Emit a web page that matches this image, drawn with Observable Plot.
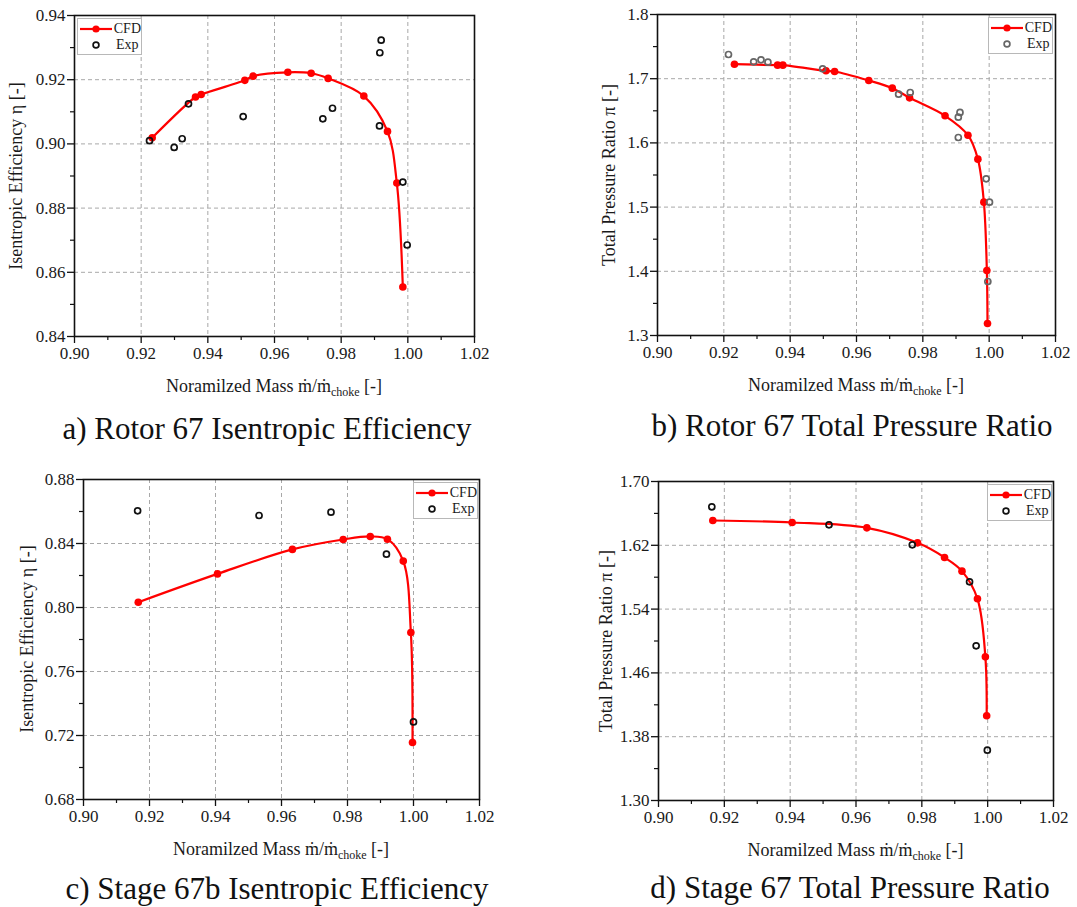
<!DOCTYPE html>
<html>
<head>
<meta charset="utf-8">
<script src="https://cdn.jsdelivr.net/npm/d3@7"></script>
<script src="https://cdn.jsdelivr.net/npm/@observablehq/plot@0.6"></script>
<style>
  html, body { margin: 0; padding: 0; background: #fff; }
  #root { position: relative; width: 1077px; height: 907px; background: #fff; overflow: hidden; color: #1a1a1a; }
  .panel { position: absolute; }
  .ytitle, .xtitle, .caption { position: absolute; white-space: nowrap; line-height: 1; }
  .ytitle { font-size: 18px; transform: translate(-50%, -50%) rotate(-90deg); }
  .xtitle { font-size: 18px; transform: translate(-50%, -50%); }
  .xtitle sub { font-size: 12px; vertical-align: -4px; line-height: 0; }
  .caption { font-size: 31px; transform: translate(-50%, -50%); color: #111; }
  .legend { position: absolute; border: 1px solid #b8b8b8; background: #fff; font-size: 14px;
            box-sizing: border-box; padding: 2px 0 0 1px; }
  .legend .row { display: flex; align-items: center; height: 16px; }
  .legend svg { display: block; margin-right: 1px; }
</style>
</head>
<body>
<div id="root"></div>
<script>
// ---------- data ----------
const xMajor = [0.90, 0.92, 0.94, 0.96, 0.98, 1.00, 1.02];
const xMinor = [0.91, 0.93, 0.95, 0.97, 0.99, 1.01];
const xGrid = [0.92, 0.94, 0.96, 0.98, 1.00];

// a) Rotor 67 Isentropic Efficiency
const aCfdX = [0.9233, 0.9363, 0.9380, 0.9511, 0.9536, 0.9640, 0.9710, 0.9761, 0.9868, 0.9939, 0.9967, 0.9985];
const aCfdY = [0.9019, 0.9146, 0.9154, 0.9198, 0.9211, 0.9223, 0.9220, 0.9204, 0.9149, 0.9039, 0.8878, 0.8554];
const aExpX = [0.9225, 0.9299, 0.9323, 0.9342, 0.9506, 0.9745, 0.9774, 0.9915, 0.9920, 0.9916, 0.9985, 0.9998];
const aExpY = [0.9010, 0.8989, 0.9016, 0.9125, 0.9085, 0.9078, 0.9111, 0.9056, 0.9323, 0.9284, 0.8881, 0.8685];
const aYTicks = [0.84, 0.86, 0.88, 0.90, 0.92, 0.94];
const aYMinor = [0.85, 0.87, 0.89, 0.91, 0.93];

// b) Rotor 67 Total Pressure Ratio
const bCfdX = [0.9232, 0.9362, 0.9378, 0.9508, 0.9534, 0.9637, 0.9708, 0.9760, 0.9867, 0.9936, 0.9966, 0.9984, 0.9993, 0.9995];
const bCfdY = [1.7226, 1.7211, 1.7211, 1.7123, 1.7112, 1.6972, 1.6853, 1.6702, 1.6422, 1.6120, 1.5747, 1.5077, 1.4013, 1.3187];
const bExpX = [0.9214, 0.9290, 0.9312, 0.9333, 0.9498, 0.9727, 0.9762, 0.9907, 0.9912, 0.9907, 0.9991, 1.0001, 0.9996];
const bExpY = [1.7377, 1.7263, 1.7294, 1.7258, 1.7154, 1.6759, 1.6785, 1.6401, 1.6474, 1.6084, 1.5440, 1.5077, 1.3841];
const bYTicks = [1.3, 1.4, 1.5, 1.6, 1.7, 1.8];
const bYMinor = [1.35, 1.45, 1.55, 1.65, 1.75];

// c) Stage 67b Isentropic Efficiency
const cCfdX = [0.9166, 0.9406, 0.9633, 0.9787, 0.9869, 0.9921, 0.9969, 0.9992, 0.9997];
const cCfdY = [0.8033, 0.8210, 0.8363, 0.8425, 0.8444, 0.8427, 0.8290, 0.7844, 0.7156];
const cExpX = [0.9164, 0.9532, 0.9750, 0.9918, 1.0000];
const cExpY = [0.8604, 0.8575, 0.8596, 0.8333, 0.7285];
const cYTicks = [0.68, 0.72, 0.76, 0.80, 0.84, 0.88];
const cYMinor = [0.70, 0.74, 0.78, 0.82, 0.86];

// d) Stage 67 Total Pressure Ratio
const dCfdX = [0.9165, 0.9406, 0.9633, 0.9787, 0.9869, 0.9922, 0.9969, 0.9993, 0.9997];
const dCfdY = [1.6511, 1.6486, 1.6419, 1.6231, 1.6047, 1.5876, 1.5529, 1.4801, 1.4062];
const dExpX = [0.9162, 0.9518, 0.9771, 0.9945, 0.9965, 0.9999];
const dExpY = [1.6682, 1.6457, 1.6206, 1.5742, 1.4939, 1.3631];
const dYTicks = [1.30, 1.38, 1.46, 1.54, 1.62, 1.70];
const dYMinor = [1.34, 1.42, 1.50, 1.58, 1.66];

const effTitle = "Isentropic Efficiency η [-]";
const prTitle = "Total Pressure Ratio π [-]";
const xTitleMain = "Noramilzed Mass ṁ/ṁ";
const xTitleSub = "choke";
const xTitleEnd = " [-]";
const captions = ["a) Rotor 67 Isentropic Efficiency", "b) Rotor 67 Total Pressure Ratio",
                  "c) Stage 67b Isentropic Efficiency", "d) Stage 67 Total Pressure Ratio"];
const legendNames = ["CFD", "Exp"];

// ---------- drawing ----------
const FONT = '"Liberation Serif", "Times New Roman", Tinos, Times';
const root = document.getElementById("root");
root.style.fontFamily = FONT;
const zip = (xs, ys) => xs.map((x, i) => ({x, y: ys[i]}));

function panel(cfg) {
  const {left, top, width, height, ml, mr, mt, mb, yDomain, yTicks, yMinor, yFmt,
         cfdX, cfdY, expX, expY, expColor, yTitle, yTitleX, caption, legend} = cfg;
  const cfd = zip(cfdX, cfdY);
  const exp = zip(expX, expY);
  const yGrid = yTicks.slice(1, -1);
  const chart = Plot.plot({
    width, height,
    marginLeft: ml, marginRight: mr, marginTop: mt, marginBottom: mb,
    style: {fontFamily: FONT, fontSize: "17px", color: "#1a1a1a", background: "transparent", overflow: "visible"},
    x: {domain: [0.90, 1.02], label: null},
    y: {domain: yDomain, label: null},
    marks: [
      Plot.gridX(xGrid, {stroke: "#a8a8a8", strokeOpacity: 1, strokeDasharray: "4,3", strokeWidth: 1}),
      Plot.gridY(yGrid, {stroke: "#a8a8a8", strokeOpacity: 1, strokeDasharray: "4,3", strokeWidth: 1}),
      Plot.axisX(xMajor, {tickSize: 7, tickPadding: 3, tickFormat: d3.format(".2f"), label: null, stroke: "#111", strokeWidth: 1.3, fontFamily: FONT}),
      Plot.axisX(xMinor, {tickSize: 4, tickFormat: () => "", label: null, stroke: "#111", strokeWidth: 1.2}),
      Plot.axisY(yTicks, {tickSize: 7, tickPadding: 2, tickFormat: d3.format(yFmt), label: null, stroke: "#111", strokeWidth: 1.3, fontFamily: FONT}),
      Plot.axisY(yMinor, {tickSize: 4, tickFormat: () => "", label: null, stroke: "#111", strokeWidth: 1.2}),
      Plot.frame({stroke: "#111", strokeWidth: 1.6}),
      Plot.line(cfd, {x: "x", y: "y", stroke: "#ff0000", strokeWidth: 2.2, curve: "catmull-rom"}),
      Plot.dot(cfd, {x: "x", y: "y", r: 3.8, fill: "#ff0000", stroke: "none"}),
      Plot.dot(exp, {x: "x", y: "y", r: 3, fill: "none", stroke: expColor, strokeWidth: 1.7})
    ]
  });
  chart.style.fontFamily = FONT;
  chart.querySelectorAll("text").forEach(t => t.style.fontFamily = FONT);
  const wrap = document.createElement("div");
  wrap.className = "panel";
  wrap.style.left = left + "px";
  wrap.style.top = top + "px";
  wrap.appendChild(chart);
  root.appendChild(wrap);

  const fx0 = left + ml, fx1 = left + width - mr;
  const fy0 = top + mt, fy1 = top + height - mb;

  const yt = document.createElement("div");
  yt.className = "ytitle";
  yt.style.fontFamily = FONT;
  yt.textContent = yTitle;
  yt.style.left = yTitleX + "px";
  yt.style.top = ((fy0 + fy1) / 2) + "px";
  root.appendChild(yt);

  const xt = document.createElement("div");
  xt.className = "xtitle";
  xt.style.fontFamily = FONT;
  xt.append(xTitleMain);
  const sub = document.createElement("sub");
  sub.textContent = xTitleSub;
  xt.appendChild(sub);
  xt.append(xTitleEnd);
  xt.style.left = ((fx0 + fx1) / 2) + "px";
  xt.style.top = (fy1 + 50) + "px";
  root.appendChild(xt);

  const cap = document.createElement("div");
  cap.className = "caption";
  cap.style.fontFamily = FONT;
  cap.textContent = caption.text;
  cap.style.left = caption.x + "px";
  cap.style.top = caption.y + "px";
  root.appendChild(cap);

  const lg = document.createElement("div");
  lg.className = "legend";
  lg.style.fontFamily = FONT;
  lg.style.left = legend.x + "px";
  lg.style.top = legend.y + "px";
  lg.style.width = "65px";
  lg.style.height = "37px";
  legendNames.forEach((name, i) => {
    const row = document.createElement("div");
    row.className = "row";
    const s = d3.create("svg").attr("width", 34).attr("height", 14);
    if (i === 0) {
      s.append("line").attr("x1", 1).attr("x2", 33).attr("y1", 7).attr("y2", 7)
        .attr("stroke", "#ff0000").attr("stroke-width", 2.2);
      s.append("circle").attr("cx", 17).attr("cy", 7).attr("r", 3.6).attr("fill", "#ff0000");
    } else {
      s.append("circle").attr("cx", 17).attr("cy", 7).attr("r", 2.9).attr("fill", "none")
        .attr("stroke", expColor).attr("stroke-width", 1.7);
    }
    row.appendChild(s.node());
    const t = document.createElement("span");
    t.textContent = name;
    if (i === 1) t.style.marginLeft = "2px";
    row.appendChild(t);
    lg.appendChild(row);
  });
  root.appendChild(lg);
}

panel({left: 0, top: 0, width: 538, height: 400, ml: 74, mr: 64, mt: 15, mb: 64,
       yDomain: [0.84, 0.94], yTicks: aYTicks, yMinor: aYMinor, yFmt: ".2f",
       cfdX: aCfdX, cfdY: aCfdY, expX: aExpX, expY: aExpY, expColor: "#111",
       yTitle: effTitle, yTitleX: 16,
       caption: {text: captions[0], x: 267, y: 428}, legend: {x: 77, y: 18}});

panel({left: 538, top: 0, width: 539, height: 400, ml: 119, mr: 22, mt: 14, mb: 65,
       yDomain: [1.3, 1.8], yTicks: bYTicks, yMinor: bYMinor, yFmt: ".1f",
       cfdX: bCfdX, cfdY: bCfdY, expX: bExpX, expY: bExpY, expColor: "#666",
       yTitle: prTitle, yTitleX: 609,
       caption: {text: captions[1], x: 852, y: 425}, legend: {x: 988, y: 17}});

panel({left: 0, top: 460, width: 538, height: 400, ml: 83, mr: 59, mt: 19, mb: 61,
       yDomain: [0.68, 0.88], yTicks: cYTicks, yMinor: cYMinor, yFmt: ".2f",
       cfdX: cCfdX, cfdY: cCfdY, expX: cExpX, expY: cExpY, expColor: "#111",
       yTitle: effTitle, yTitleX: 27,
       caption: {text: captions[2], x: 277, y: 888}, legend: {x: 413, y: 482}});

panel({left: 538, top: 460, width: 539, height: 400, ml: 120, mr: 24, mt: 21, mb: 60,
       yDomain: [1.30, 1.70], yTicks: dYTicks, yMinor: dYMinor, yFmt: ".2f",
       cfdX: dCfdX, cfdY: dCfdY, expX: dExpX, expY: dExpY, expColor: "#111",
       yTitle: prTitle, yTitleX: 606,
       caption: {text: captions[3], x: 850, y: 887}, legend: {x: 987, y: 484}});
</script>
</body>
</html>
